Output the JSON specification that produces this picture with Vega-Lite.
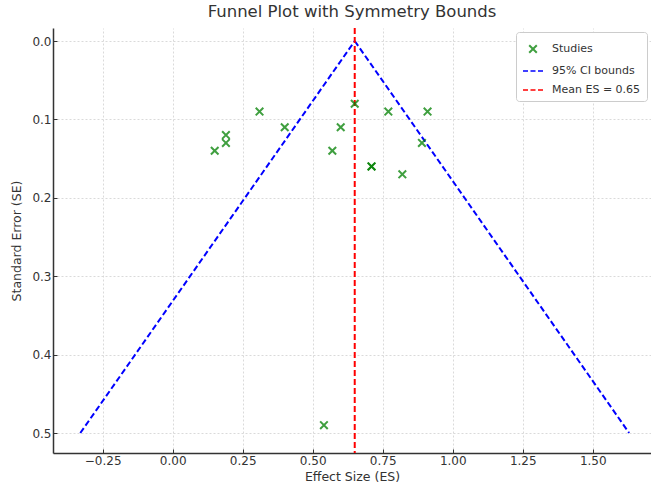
{
  "$schema": "https://vega.github.io/schema/vega-lite/v6.json",
  "autosize": {"type": "none"},
  "padding": {"left": 53, "top": 28, "right": 0, "bottom": 39},
  "width": 598,
  "height": 425,
  "background": "white",
  "title": {"text": "Funnel Plot with Symmetry Bounds", "fontSize": 16.5, "font": "DejaVu Sans", "fontWeight": "normal", "color": "#333333", "anchor": "middle", "offset": 7},
  "config": {
    "view": {"stroke": null},
    "axis": {
      "labelFont": "DejaVu Sans", "titleFont": "DejaVu Sans",
      "labelFontSize": 12, "titleFontSize": 12.5, "titleFontWeight": "normal",
      "labelColor": "#333333", "titleColor": "#333333",
      "domainColor": "#333333", "domainWidth": 1.5,
      "tickColor": "#333333", "tickSize": -4,
      "gridColor": "#d6d6d6", "gridDash": [2, 2], "gridWidth": 0.9
    },
    "legend": {"labelFont": "DejaVu Sans"}
  },
  "datasets": {
    "studies": [
      {"es": 0.31, "se": 0.09, "series": "Studies"},
      {"es": 0.40, "se": 0.11, "series": "Studies"},
      {"es": 0.19, "se": 0.12, "series": "Studies"},
      {"es": 0.19, "se": 0.13, "series": "Studies"},
      {"es": 0.15, "se": 0.14, "series": "Studies"},
      {"es": 0.65, "se": 0.08, "series": "Studies"},
      {"es": 0.60, "se": 0.11, "series": "Studies"},
      {"es": 0.57, "se": 0.14, "series": "Studies"},
      {"es": 0.77, "se": 0.09, "series": "Studies"},
      {"es": 0.91, "se": 0.09, "series": "Studies"},
      {"es": 0.89, "se": 0.13, "series": "Studies"},
      {"es": 0.71, "se": 0.16, "series": "Studies"},
      {"es": 0.71, "se": 0.16, "series": "Studies"},
      {"es": 0.82, "se": 0.17, "series": "Studies"},
      {"es": 0.54, "se": 0.49, "series": "Studies"}
    ],
    "bounds": [
      {"es": 0.65, "se": 0.0, "side": "lower", "series": "95% CI bounds"},
      {"es": -0.33, "se": 0.5, "side": "lower", "series": "95% CI bounds"},
      {"es": 0.65, "se": 0.0, "side": "upper", "series": "95% CI bounds"},
      {"es": 1.63, "se": 0.5, "side": "upper", "series": "95% CI bounds"}
    ],
    "mean": [
      {"es": 0.65, "series": "Mean ES = 0.65"}
    ]
  },
  "layer": [
    {
      "data": {"name": "bounds"},
      "mark": {"type": "line", "strokeDash": [6, 3], "strokeWidth": 2},
      "encoding": {
        "x": {"field": "es", "type": "quantitative"},
        "y": {"field": "se", "type": "quantitative"},
        "detail": {"field": "side"},
        "color": {"field": "series", "type": "nominal"}
      }
    },
    {
      "data": {"name": "mean"},
      "mark": {"type": "rule", "strokeDash": [6, 3], "strokeWidth": 2},
      "encoding": {
        "x": {"field": "es", "type": "quantitative"},
        "color": {"field": "series", "type": "nominal"}
      }
    },
    {
      "data": {"name": "studies"},
      "mark": {"type": "point", "filled": false, "strokeWidth": 2, "size": 400, "opacity": 0.75},
      "encoding": {
        "x": {
          "field": "es", "type": "quantitative",
          "scale": {"domain": [-0.4275, 1.708], "nice": false, "zero": false},
          "axis": {"title": "Effect Size (ES)", "values": [-0.25, 0, 0.25, 0.5, 0.75, 1, 1.25, 1.5], "format": ".2f", "labelPadding": 6, "titlePadding": 4}
        },
        "y": {
          "field": "se", "type": "quantitative",
          "scale": {"domain": [-0.0166, 0.5255], "nice": false, "zero": false, "reverse": true},
          "axis": {"title": "Standard Error (SE)", "values": [0, 0.1, 0.2, 0.3, 0.4, 0.5], "format": ".1f", "labelPadding": 6, "titlePadding": 8}
        },
        "color": {
          "field": "series", "type": "nominal",
          "scale": {"domain": ["Studies", "95% CI bounds", "Mean ES = 0.65"], "range": ["green", "blue", "red"]},
          "legend": {"title": null, "orient": "top-right", "offset": 4, "fillColor": "white", "strokeColor": "#cccccc", "cornerRadius": 3, "padding": 6, "labelFontSize": 11, "labelColor": "#333333", "symbolSize": 400, "symbolStrokeWidth": 2, "rowPadding": 3, "labelOffset": 8}
        },
        "shape": {
          "field": "series", "type": "nominal",
          "scale": {"domain": ["Studies", "95% CI bounds", "Mean ES = 0.65"], "range": ["M-0.38,-0.38L0.38,0.38M0.38,-0.38L-0.38,0.38", "M-1,0L-0.5,0M-0.25,0L0.25,0M0.5,0L1,0", "M-1,0L-0.5,0M-0.25,0L0.25,0M0.5,0L1,0"]},
          "legend": {"title": null, "orient": "top-right", "offset": 4, "fillColor": "white", "strokeColor": "#cccccc", "cornerRadius": 3, "padding": 6, "labelFontSize": 11, "labelColor": "#333333", "symbolSize": 400, "symbolStrokeWidth": 2, "rowPadding": 3, "labelOffset": 8}
        }
      }
    }
  ],
  "resolve": {"scale": {"color": "shared"}}
}
